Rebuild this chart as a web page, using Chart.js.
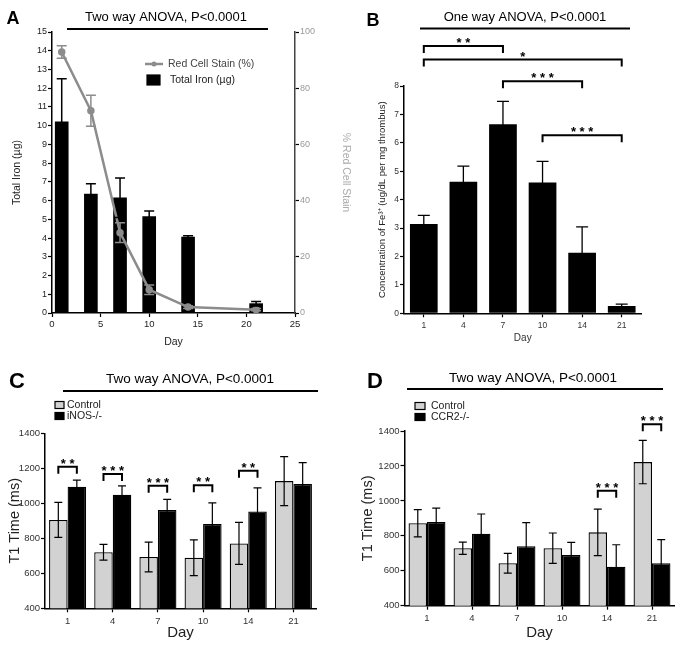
<!DOCTYPE html>
<html>
<head>
<meta charset="utf-8">
<script src="https://cdn.jsdelivr.net/npm/chart.js@4.4.0/dist/chart.umd.min.js"></script>
<style>
  html, body { margin: 0; padding: 0; background: #fff; }
  #wrap { position: relative; width: 688px; height: 649px; overflow: hidden; }
  canvas { position: absolute; }
</style>
</head>
<body>
<div id="wrap">
  <canvas id="chartA" width="360" height="350" style="left:0px;top:0px"></canvas>
  <canvas id="chartB" width="348" height="350" style="left:340px;top:0px"></canvas>
  <canvas id="chartC" width="340" height="304" style="left:0px;top:345px"></canvas>
  <canvas id="chartD" width="348" height="304" style="left:340px;top:345px"></canvas>
</div>
<script>
const FONT = '"Liberation Sans", Arial, Helvetica, sans-serif';

// ---- data ----
const days = [1, 4, 7, 10, 14, 21];
const dayLabels = ['1', '4', '7', '10', '14', '21'];

// A: total iron (bars, left axis) and red cell stain (line, right axis)
const ironA = [10.2, 6.35, 6.15, 5.15, 4.05, 0.5];
const ironErrA = [2.3, 0.55, 1.05, 0.3, 0.08, 0.12];
const stainA = [92.9, 72, 28.6, 8.3, 2.1, 1.2];
const stainErrA = [2.2, 5.5, 3.5, 1.7, 0.5, 0.4];

// B: Fe3+ concentration
const concB = [3.14, 4.63, 6.65, 4.6, 2.13, 0.26];
const concErrB = [0.31, 0.55, 0.81, 0.75, 0.91, 0.06];
const bracketFromB = [0, 0, 2, 3];
const bracketToB = [2, 5, 4, 5];
const bracketLevelB = [9.41, 8.93, 8.17, 6.27];
const bracketStarsB = ['**', '*', '***', '***'];

// C: T1 time, control vs iNOS-/-
const ctrlC = [905, 720, 693, 689, 771, 1127];
const ctrlErrC = [100, 45, 85, 102, 120, 140];
const inosC = [1095, 1049, 962, 882, 953, 1110];
const inosErrC = [38, 51, 61, 121, 135, 122];
const bracketLevelC = [1209, 1167, 1100, 1103, 1186, null];
const bracketStarsC = ['**', '***', '***', '**', '**', ''];

// D: T1 time, control vs CCR2-/-
const ctrlD = [872, 729, 643, 729, 820, 1222];
const ctrlErrD = [78, 35, 57, 87, 133, 124];
const ccr2D = [879, 812, 740, 690, 623, 643];
const ccr2ErrD = [80, 113, 135, 73, 126, 135];
const bracketLevelD = [null, null, null, null, 1058, 1438];
const bracketStarsD = ['', '', '', '', '***', '***'];

Chart.defaults.font.family = FONT;
Chart.defaults.color = '#333';
Chart.defaults.animation = false;

// error bars from each dataset's "errors" array
const errorBars = {
  id: 'errorBars',
  afterDatasetsDraw(chart) {
    const ctx = chart.ctx;
    chart.data.datasets.forEach((ds, i) => {
      if (!ds.errors) return;
      const meta = chart.getDatasetMeta(i);
      const yScale = chart.scales[meta.yAxisID];
      ctx.save();
      ctx.strokeStyle = ds.errorColor || '#000';
      ctx.lineWidth = ds.errorWidth || 1.2;
      meta.data.forEach((el, j) => {
        const raw = ds.data[j];
        const v = typeof raw === 'object' ? raw.y : raw;
        const e = ds.errors[j];
        const top = yScale.getPixelForValue(v + e);
        const bot = yScale.getPixelForValue(v - e);
        const cap = ds.capHalf || 4;
        ctx.beginPath();
        ctx.moveTo(el.x, top); ctx.lineTo(el.x, bot);
        ctx.moveTo(el.x - cap, top); ctx.lineTo(el.x + cap, top);
        ctx.moveTo(el.x - cap, bot); ctx.lineTo(el.x + cap, bot);
        ctx.stroke();
      });
      ctx.restore();
    });
  }
};

function stars(ctx, text, x, y) {
  ctx.font = 'bold 13px ' + FONT;
  ctx.textAlign = 'center';
  ctx.textBaseline = 'alphabetic';
  ctx.fillText(text.split('').join(' '), x, y + 1);
}

function bracket(ctx, x1, x2, y, drop) {
  ctx.beginPath();
  ctx.moveTo(x1, y + drop); ctx.lineTo(x1, y); ctx.lineTo(x2, y); ctx.lineTo(x2, y + drop);
  ctx.stroke();
}

// significance brackets
const brackets = {
  id: 'brackets',
  afterDraw(chart, args, o) {
    const ctx = chart.ctx;
    const xs = chart.scales.x, ys = chart.scales.y;
    ctx.save();
    ctx.strokeStyle = '#000';
    ctx.fillStyle = '#000';
    ctx.lineWidth = 2;
    if (o.mode === 'span') {
      o.from.forEach((f, k) => {
        const x1 = xs.getPixelForValue(f), x2 = xs.getPixelForValue(o.to[k]);
        const y = ys.getPixelForValue(o.level[k]);
        bracket(ctx, x1, x2, y, 7);
        stars(ctx, o.stars[k], (x1 + x2) / 2, y);
      });
    } else {
      const a = chart.getDatasetMeta(0).data, b = chart.getDatasetMeta(1).data;
      o.level.forEach((lv, j) => {
        if (lv === null) return;
        const x1 = a[j].x, x2 = b[j].x;
        const y = ys.getPixelForValue(lv);
        bracket(ctx, x1, x2, y, 7);
        stars(ctx, o.stars[j], (x1 + x2) / 2, y);
      });
    }
    ctx.restore();
  }
};

// panel letter, ANOVA header and legend
const decor = {
  id: 'decor',
  afterDraw(chart, args, o) {
    const ctx = chart.ctx;
    ctx.save();
    ctx.fillStyle = '#000';
    ctx.strokeStyle = '#000';
    ctx.textAlign = 'center';
    ctx.textBaseline = 'middle';
    ctx.font = 'bold ' + o.letterSize + 'px ' + FONT;
    ctx.fillText(o.letter, o.letterX, o.letterY);
    ctx.font = o.titleSize + 'px ' + FONT;
    ctx.fillText(o.title, o.titleX, o.titleY);
    ctx.lineWidth = 2;
    ctx.beginPath(); ctx.moveTo(o.lineX1, o.lineY); ctx.lineTo(o.lineX2, o.lineY); ctx.stroke();

    ctx.textAlign = 'left';
    ctx.font = o.legendSize + 'px ' + FONT;
    (o.legend || []).forEach(it => {
      const ds = chart.data.datasets[it.ds];
      if (it.kind === 'line') {
        ctx.strokeStyle = ds.borderColor; ctx.lineWidth = 2.5;
        ctx.beginPath(); ctx.moveTo(it.x, it.y); ctx.lineTo(it.x + 18, it.y); ctx.stroke();
        ctx.fillStyle = ds.borderColor;
        ctx.beginPath(); ctx.arc(it.x + 9, it.y, 2.5, 0, Math.PI * 2); ctx.fill();
        ctx.fillStyle = '#444';
        ctx.fillText(ds.label, it.x + 23, it.y);
      } else {
        ctx.fillStyle = ds.backgroundColor;
        ctx.fillRect(it.x, it.y - it.h / 2, it.w, it.h);
        ctx.strokeStyle = '#000'; ctx.lineWidth = 1.2;
        ctx.strokeRect(it.x, it.y - it.h / 2, it.w, it.h);
        ctx.fillStyle = '#222';
        ctx.fillText(ds.label, it.x + it.w + it.gap, it.y);
      }
    });
    ctx.restore();
  }
};

const plain = v => String(v);

function axis(extra) {
  const base = {
    grid: { drawOnChartArea: false, offset: false, color: '#000', tickColor: '#000', tickLength: 4, tickWidth: 1.2 },
    border: { color: '#000', width: 1.5 },
    ticks: { font: { size: 9 }, color: '#333', padding: 2 }
  };
  return Object.assign(base, extra);
}

// ---------- A ----------
new Chart(document.getElementById('chartA'), {
  type: 'bar',
  data: {
    datasets: [
      {
        type: 'line', label: 'Red Cell Stain (%)', yAxisID: 'y2', order: 0,
        data: days.map((d, i) => ({ x: d, y: stainA[i] })),
        borderColor: '#8c8c8c', backgroundColor: '#8c8c8c', borderWidth: 2.5,
        pointRadius: 2.5, pointBackgroundColor: '#8c8c8c', tension: 0,
        errors: stainErrA, errorColor: '#8c8c8c', capHalf: 5, errorWidth: 1.5
      },
      {
        type: 'bar', label: 'Total Iron (\u00b5g)', yAxisID: 'y', order: 1,
        data: days.map((d, i) => ({ x: d, y: ironA[i] })),
        backgroundColor: '#000', barThickness: 13,
        errors: ironErrA, capHalf: 5, errorWidth: 1.5
      }
    ]
  },
  options: {
    responsive: false, devicePixelRatio: 1,
    layout: { padding: { top: 32, left: 0, right: 0, bottom: 0 } },
    plugins: {
      legend: { display: false }, tooltip: { enabled: false },
      decor: {
        letter: 'A', letterSize: 18, letterX: 13, letterY: 19,
        title: 'Two way ANOVA, P<0.0001', titleSize: 13, titleX: 166, titleY: 17,
        lineX1: 67, lineX2: 268, lineY: 29, legendSize: 10.5,
        legend: [
          { ds: 0, kind: 'line', x: 145, y: 64 },
          { ds: 1, kind: 'box', x: 147, y: 80, w: 13, h: 10, gap: 10 }
        ]
      }
    },
    scales: {
      x: axis({
        type: 'linear', min: 0, max: 25, offset: false,
        ticks: { stepSize: 5, font: { size: 9.5 }, color: '#222', padding: 2 },
        title: { display: true, text: 'Day', font: { size: 10.5 }, color: '#222', padding: { top: 0, bottom: 1.5 } },
        afterFit: s => { s.height = 37; }
      }),
      y: axis({
        position: 'left', min: 0, max: 15,
        ticks: { stepSize: 1, font: { size: 9 }, color: '#222', padding: 1 },
        title: { display: true, text: 'Total Iron (\u00b5g)', font: { size: 10.5 }, color: '#222', padding: { top: 10.5, bottom: 0 } },
        afterFit: s => { s.width = 52; }
      }),
      y2: axis({
        position: 'right', min: 0, max: 100,
        ticks: { stepSize: 20, font: { size: 9 }, color: '#999', padding: 1 },
        border: { color: '#444', width: 1.5 },
        title: { display: true, text: '% Red Cell Stain', font: { size: 10.5 }, color: '#aaa', padding: { top: 7.5, bottom: 0 } },
        afterFit: s => { s.width = 65; }
      })
    }
  },
  plugins: [errorBars, decor]
});

// ---------- B ----------
new Chart(document.getElementById('chartB'), {
  type: 'bar',
  data: {
    labels: dayLabels,
    datasets: [{
      label: 'Fe3+', data: concB, backgroundColor: '#000',
      categoryPercentage: 1, barPercentage: 0.7,
      errors: concErrB, capHalf: 6, errorWidth: 1.3
    }]
  },
  options: {
    responsive: false, devicePixelRatio: 1,
    layout: { padding: { top: 86, left: 0, right: 46.5, bottom: 0 } },
    plugins: {
      legend: { display: false }, tooltip: { enabled: false },
      decor: {
        letter: 'B', letterSize: 18, letterX: 33, letterY: 21,
        title: 'One way ANOVA, P<0.0001', titleSize: 13, titleX: 185, titleY: 17,
        lineX1: 80, lineX2: 290, lineY: 28.5
      },
      brackets: { mode: 'span', from: bracketFromB, to: bracketToB, level: bracketLevelB, stars: bracketStarsB }
    },
    scales: {
      x: axis({
        ticks: { font: { size: 8.5 }, color: '#333', padding: 3 },
        title: { display: true, text: 'Day', font: { size: 10 }, color: '#333', padding: { top: 0, bottom: 6 } },
        afterFit: s => { s.height = 36.7; }
      }),
      y: axis({
        min: 0, max: 8,
        ticks: { stepSize: 1, font: { size: 8.5 }, color: '#333', padding: 1 },
        title: { display: true, text: 'Concentration of Fe\u00b3\u207a (ug/dL per mg thrombus)', font: { size: 9.5 }, color: '#222', padding: { top: 36.2, bottom: 0 } },
        afterFit: s => { s.width = 64; }
      })
    }
  },
  plugins: [errorBars, brackets, decor]
});

// ---------- C and D ----------
function t1Chart(id, secondLabel, ctrl, ctrlErr, other, otherErr, level, starsTxt, pad, yw, xh, yTitlePad, dec) {
  return new Chart(document.getElementById(id), {
    type: 'bar',
    data: {
      labels: dayLabels,
      datasets: [
        {
          label: 'Control', data: ctrl, backgroundColor: '#d2d2d2', borderColor: '#000', borderWidth: 1.3,
          categoryPercentage: 0.82, barPercentage: 1, errors: ctrlErr, capHalf: 4
        },
        {
          label: secondLabel, data: other, backgroundColor: '#000', borderColor: '#000', borderWidth: 1.3,
          categoryPercentage: 0.82, barPercentage: 1, errors: otherErr, capHalf: 4
        }
      ]
    },
    options: {
      responsive: false, devicePixelRatio: 1,
      layout: { padding: pad },
      plugins: {
        legend: { display: false }, tooltip: { enabled: false },
        decor: dec,
        brackets: { mode: 'pair', level: level, stars: starsTxt }
      },
      scales: {
        x: axis({
          ticks: { font: { size: 9.5 }, color: '#333', padding: 3 },
          title: { display: true, text: 'Day', font: { size: 15 }, color: '#222', padding: { top: 0, bottom: 7 } },
          afterFit: s => { s.height = xh; }
        }),
        y: axis({
          min: 400, max: 1400,
          ticks: { stepSize: 200, font: { size: 9.5 }, color: '#333', padding: 1, callback: plain },
          title: { display: true, text: 'T1 Time (ms)', font: { size: 14.5 }, color: '#222', padding: { top: yTitlePad, bottom: 0 } },
          afterFit: s => { s.width = yw; }
        })
      }
    },
    plugins: [errorBars, brackets, decor]
  });
}

t1Chart('chartC', 'iNOS-/-', ctrlC, ctrlErrC, inosC, inosErrC, bracketLevelC, bracketStarsC,
  { top: 88.3, left: 0, right: 24, bottom: 0 }, 45, 40.7, 6.3,
  {
    letter: 'C', letterSize: 22, letterX: 17, letterY: 37,
    title: 'Two way ANOVA, P<0.0001', titleSize: 13.5, titleX: 190, titleY: 34,
    lineX1: 63, lineX2: 318, lineY: 46, legendSize: 10.5,
    legend: [
      { ds: 0, kind: 'box', x: 55, y: 60, w: 9, h: 7, gap: 3 },
      { ds: 1, kind: 'box', x: 55, y: 71, w: 9, h: 7, gap: 3 }
    ]
  });

t1Chart('chartD', 'CCR2-/-', ctrlD, ctrlErrD, ccr2D, ccr2ErrD, bracketLevelD, bracketStarsD,
  { top: 86, left: 0, right: 13.5, bottom: 0 }, 64.5, 43.3, 19.3,
  {
    letter: 'D', letterSize: 22, letterX: 35, letterY: 37,
    title: 'Two way ANOVA, P<0.0001', titleSize: 13.5, titleX: 193, titleY: 33,
    lineX1: 67, lineX2: 323, lineY: 44, legendSize: 10.5,
    legend: [
      { ds: 0, kind: 'box', x: 75, y: 61, w: 10, h: 7, gap: 6 },
      { ds: 1, kind: 'box', x: 75, y: 72, w: 10, h: 7, gap: 6 }
    ]
  });
</script>
</body>
</html>
